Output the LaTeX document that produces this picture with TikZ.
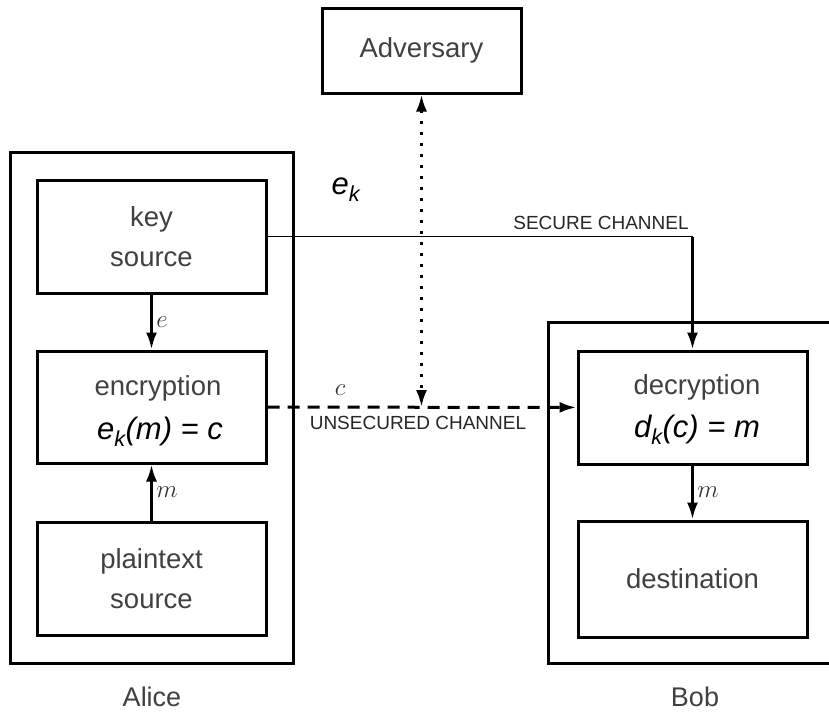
\documentclass[tikz,border=0pt]{standalone}
\usepackage{fontspec}
\setmainfont{Liberation Sans}
\usetikzlibrary{arrows.meta}
\tikzset{>={Latex[length=17pt,width=11pt]}}

\begin{document}
\begin{tikzpicture}[x=1pt,y=-1pt,
    box/.style={draw,line width=3pt,minimum width=229pt,minimum height=113pt,
      align=center,text=black!75,font=\fontsize{27.5}{40}\selectfont},
    frame/.style={draw,line width=3pt,minimum width=283pt,minimum height=511pt},
    who/.style={inner sep=0pt,text=black!75,font=\fontsize{27}{30}\selectfont},
    lbl/.style={text=black!80,font=\fontsize{29}{30}\selectfont},
    chan/.style={text=black!85,font=\fontsize{19}{20}\selectfont},
    formula/.style={text=black,font=\fontsize{31}{34}\selectfont\itshape}]
  \useasboundingbox (0,0) rectangle (829,712);
  % Alice
  \node[frame] (alice) at (151.5,407.5) {};
  \node[who] (alicename) at (152,697) {Alice};
  \node[box] (key) at (151.5,236.5) {key\\source};
  \node[box,minimum height=112pt] (enc) at (151.5,407) {};
  \node[box,draw=none] (enctext) at (158,388) {encryption};
  \node[formula] (encf) at (160,432) {e\textsubscript{k}(m) = c};
  \node[box] (plain) at (151.5,578.5) {plaintext\\source};
  % Bob
  \draw[line width=3pt] (829,322) -- (548,322) -- (548,663) -- (829,663);
  \node[who] (bobname) at (695,697) {Bob};
  \node[box] (dec) at (692.5,407.5) {};
  \node[box,draw=none] (dectext) at (697,387) {decryption};
  \node[formula] (decf) at (697,430) {d\textsubscript{k}(c) = m};
  \node[box,minimum height=116pt] (dest) at (692.5,579) {destination};
  % Adversary
  \node[box,minimum width=199pt,minimum height=85pt] (adv) at (421.5,50.5) {Adversary};
  % connections
  \draw[->,line width=3pt] (key) -- (enc) node[midway,right,lbl] {$e$};
  \draw[->,line width=3pt] (plain) -- (enc) node[midway,right,lbl] {$m$};
  \draw[->,line width=3pt] (dec) -- (dest) node[midway,right,lbl] {$m$};
  \coordinate (turn) at (dec.north |- key.east);
  \draw[line width=1.5pt] (key.east) -- (turn);
  \draw[->,line width=3pt] (turn) -- (dec.north);
  \node[formula] (ek) at (346,190) {e\textsubscript{k}};
  \node[chan] (secure) at (601,223) {SECURE CHANNEL};
  \draw[->,line width=3pt,dash pattern=on 12pt off 8pt] (enc) -- (dec);
  \node[lbl] (clbl) at (340,390) {$c$};
  \node[chan] (unsecure) at (418,423) {UNSECURED CHANNEL};
  \coordinate (tap) at (adv.south |- enc.east);
  \draw[<->,line width=3pt,dash pattern=on 3pt off 8pt] (adv) -- (tap);
\end{tikzpicture}
\end{document}
